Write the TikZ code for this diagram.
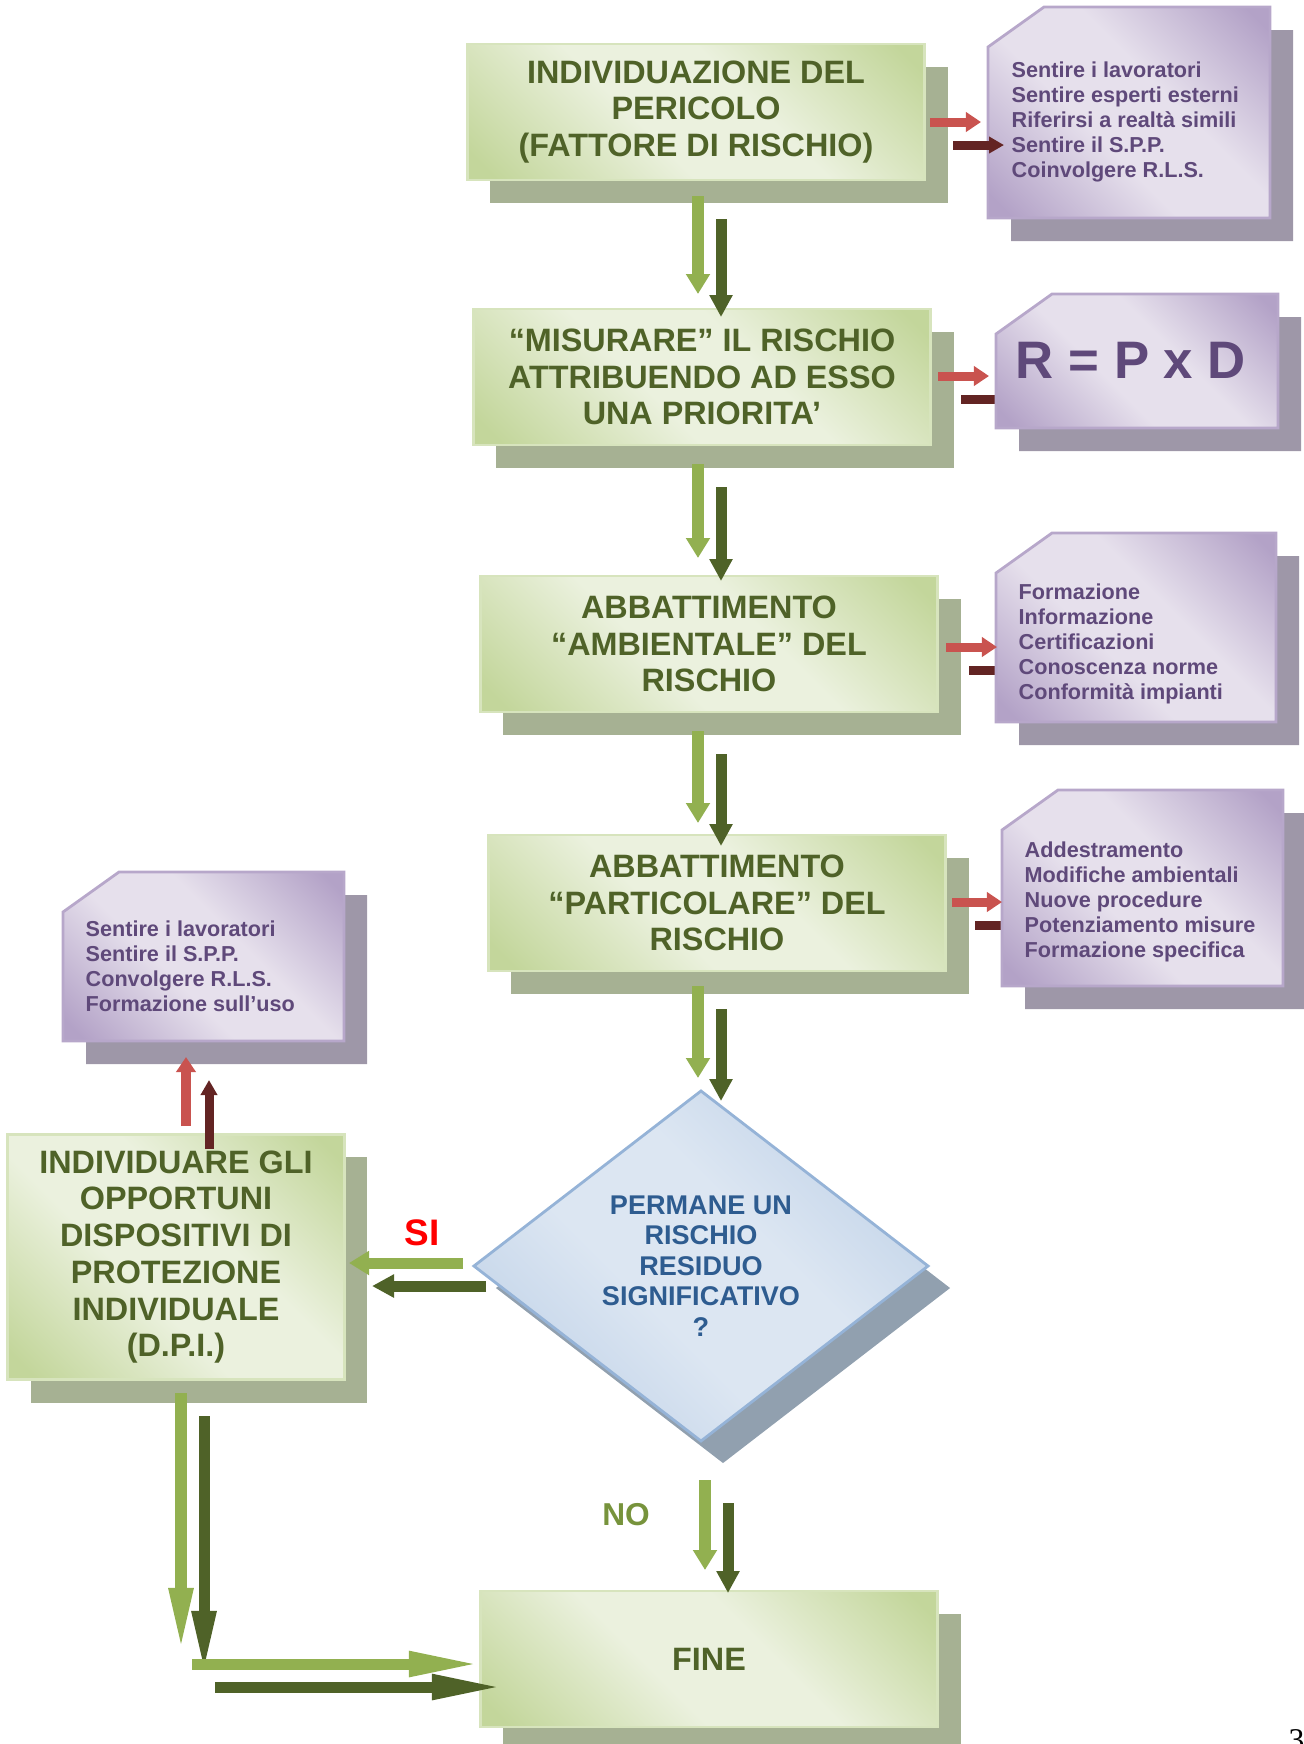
\documentclass[tikz,border=0pt]{standalone}
\usepackage{fontspec}
\setmainfont{Liberation Sans}
\newfontfamily\pagefont{Liberation Serif}
\usetikzlibrary{arrows.meta,shapes.geometric,shadows,calc}

\definecolor{gdark}{HTML}{C3D69B}
\definecolor{glight}{HTML}{EBF1DE}
\definecolor{gborder}{HTML}{D7E4BD}
\definecolor{gshadow}{HTML}{A6B193}
\definecolor{gtext}{HTML}{4F6228}
\definecolor{pdark}{HTML}{B3A2C7}
\definecolor{plight}{HTML}{E6E0EC}
\definecolor{pborder}{HTML}{B7A7CA}
\definecolor{pshadow}{HTML}{9E97A8}
\definecolor{ptext}{HTML}{5F497A}
\definecolor{bdark}{HTML}{B9CDE5}
\definecolor{blight}{HTML}{DCE6F2}
\definecolor{bborder}{HTML}{95B3D7}
\definecolor{bshadow}{HTML}{91A0AF}
\definecolor{btext}{HTML}{2E5C90}
\definecolor{arrlight}{HTML}{92B050}
\definecolor{arrdark}{HTML}{4F6228}
\definecolor{redlight}{HTML}{C9534F}
\definecolor{reddark}{HTML}{632423}
\definecolor{notext}{HTML}{77933C}

\pgfdeclarehorizontalshading{greenfog}{100bp}{color(0bp)=(gdark); color(18bp)=(gdark); color(42bp)=(glight); color(58bp)=(glight); color(82bp)=(gdark); color(100bp)=(gdark)}
\pgfdeclarehorizontalshading{purplefog}{100bp}{color(0bp)=(pdark); color(18bp)=(pdark); color(42bp)=(plight); color(58bp)=(plight); color(82bp)=(pdark); color(100bp)=(pdark)}
\pgfdeclarehorizontalshading{bluefog}{100bp}{color(0bp)=(bdark); color(18bp)=(bdark); color(42bp)=(blight); color(58bp)=(blight); color(82bp)=(bdark); color(100bp)=(bdark)}

% snipped note, corners in px
\newcommand\snip[4]{\path[pbox] (#1,#4) -- (#3,#4) -- (#3,#2) -- ({#1+56},#2) -- (#1,{#2+40}) -- cycle;}

\begin{document}
\begin{tikzpicture}[x=0.01cm, y=-0.01cm,
  gbox/.style={rectangle, shade, shading=greenfog, shading angle=45, draw=gborder, line width=0.8pt,
    minimum width=4.57cm, minimum height=1.36cm, align=center, text=gtext,
    font=\fontsize{9.2}{10.45}\selectfont\bfseries,
    drop shadow={shadow xshift=0.23cm, shadow yshift=-0.23cm, fill=gshadow, opacity=1}},
  dbox/.style={diamond, shade, shading=bluefog, shading angle=45, draw=bborder, line width=0.8pt,
    minimum width=4.55cm, minimum height=3.51cm, shape aspect=1.3, inner sep=0pt, align=center, text=btext,
    font=\fontsize{7.7}{8.7}\selectfont\bfseries,
    drop shadow={shadow xshift=0.22cm, shadow yshift=-0.22cm, fill=bshadow, opacity=1}},
  pbox/.style={shade, shading=purplefog, shading angle=45, draw=pborder, line width=0.8pt,
    drop shadow={shadow xshift=0.23cm, shadow yshift=-0.23cm, fill=pshadow, opacity=1}},
  ptxt/.style={anchor=west, align=left, inner sep=0pt, text=ptext, font=\fontsize{6.15}{7.1}\selectfont\bfseries},
  twin/.style={transform canvas={xshift=0.23cm, yshift=-0.23cm}},
  lgr/.style={draw=arrlight, line width=0.11cm, -{Triangle[length=0.2cm, width=0.23cm]}},
  dgr/.style={draw=arrdark, line width=0.11cm, -{Triangle[length=0.22cm, width=0.22cm]}, twin},
  lrd/.style={draw=redlight, line width=0.09cm, -{Triangle[length=0.15cm, width=0.19cm]}},
  drd/.style={draw=reddark, line width=0.09cm, -{Triangle[length=0.15cm, width=0.16cm]}, twin},
  longtip/.style={-{Triangle[length=0.64cm, width=0.22cm]}},
  widetip/.style={-{Triangle[length=0.72cm, width=0.23cm]}}
]
\useasboundingbox (0,0) rectangle (1304,1744);

% main flow
\node[gbox] (b1) at (696,112) {INDIVIDUAZIONE DEL\\PERICOLO\\(FATTORE DI RISCHIO)};
\node[gbox] (b2) at (702,377) {“MISURARE” IL RISCHIO\\ATTRIBUENDO AD ESSO\\UNA PRIORITA’};
\node[gbox] (b3) at (709,644) {ABBATTIMENTO\\“AMBIENTALE” DEL\\RISCHIO};
\node[gbox] (b4) at (717,903) {ABBATTIMENTO\\“PARTICOLARE” DEL\\RISCHIO};
\node[dbox] (ask) at (701,1266) {PERMANE UN\\RISCHIO\\RESIDUO\\SIGNIFICATIVO\\?};
\node[gbox, minimum width=3.36cm, minimum height=2.45cm] (dpi) at (176,1257)
  {INDIVIDUARE GLI\\OPPORTUNI\\DISPOSITIVI DI\\PROTEZIONE\\INDIVIDUALE\\(D.P.I.)};
\node[gbox] (fine) at (709,1659) {FINE};

% arrow ends
\coordinate (a1s) at (698,196);  \coordinate (a1e) at (698,294);
\coordinate (a2s) at (698,464);  \coordinate (a2e) at (698,558);
\coordinate (a3s) at (698,731);  \coordinate (a3e) at (698,823);
\coordinate (a4s) at (698,986);  \coordinate (a4e) at (698,1078);
\coordinate (nos) at (705,1480); \coordinate (noe) at (705,1570);
\coordinate (sis) at (463,1263); \coordinate (sie) at (349,1263);
\coordinate (dws) at (181,1393); \coordinate (dwe) at (181,1652);
\coordinate (fis) at (192,1664); \coordinate (fie) at (481,1664);
\coordinate (r1s) at (930,122);  \coordinate (r1e) at (981,122);
\coordinate (r2s) at (938,376);  \coordinate (r2e) at (989,376);
\coordinate (r3s) at (946,647);  \coordinate (r3e) at (997,647);
\coordinate (r4s) at (952,902);  \coordinate (r4e) at (1002,902);
\coordinate (r5s) at (186,1126); \coordinate (r5e) at (186,1057);

% shadows under the notes
\draw[drd] (r2s) -- (r2e);
\draw[drd] (r3s) -- (r3e);
\draw[drd] (r4s) -- (r4e);

% notes
\snip{988}{7}{1270}{218}
\node[ptxt] (n1) at (1011,122) {Sentire i lavoratori\\Sentire esperti esterni\\Riferirsi a realtà simili\\Sentire il S.P.P.\\Coinvolgere R.L.S.};
\snip{996}{294}{1278}{428}
\node[text=ptext, font=\fontsize{15}{16}\selectfont\bfseries] (n2) at (1131,360) {R = P x D};
\snip{996}{533}{1276}{722}
\node[ptxt] (n3) at (1018,644) {Formazione\\Informazione\\Certificazioni\\Conoscenza norme\\Conformità impianti};
\snip{1002}{790}{1283}{986}
\node[ptxt] (n4) at (1024,902) {Addestramento\\Modifiche ambientali\\Nuove procedure\\Potenziamento misure\\Formazione specifica};
\snip{63}{872}{344}{1041}
\node[ptxt] (n5) at (85,966) {Sentire i lavoratori\\Sentire il S.P.P.\\Convolgere R.L.S.\\Formazione sull’uso};

% shadow arrows
\draw[drd] (r1s) -- (r1e);
\draw[drd] (r5s) -- (r5e);
\draw[dgr] (a1s) -- (a1e);
\draw[dgr] (a2s) -- (a2e);
\draw[dgr] (a3s) -- (a3e);
\draw[dgr] (a4s) -- (a4e);
\draw[dgr] (nos) -- (noe);
\draw[dgr] (sis) -- (sie);
\draw[dgr, longtip] (dws) -- (dwe);
\draw[dgr, widetip] (fis) -- (fie);

% arrows
\draw[lrd] (r1s) -- (r1e);
\draw[lrd] (r2s) -- (r2e);
\draw[lrd] (r3s) -- (r3e);
\draw[lrd] (r4s) -- (r4e);
\draw[lrd] (r5s) -- (r5e);
\draw[lgr] (a1s) -- (a1e);
\draw[lgr] (a2s) -- (a2e);
\draw[lgr] (a3s) -- (a3e);
\draw[lgr] (a4s) -- (a4e);
\draw[lgr] (nos) -- (noe);
\draw[lgr] (sis) -- (sie);
\draw[lgr, longtip] (dws) -- (dwe);
\draw[lgr, widetip] (fis) -- (fie);

% labels
\node[text=red, font=\fontsize{10.5}{12}\selectfont\bfseries] (si) at (422,1233) {SI};
\node[text=notext, font=\fontsize{9}{10}\selectfont\bfseries] (no) at (626,1515) {NO};
\node[anchor=north west, inner sep=0pt, font=\fontsize{9}{10}\pagefont] (pg) at (1288,1729) {3};
\end{tikzpicture}
\end{document}
